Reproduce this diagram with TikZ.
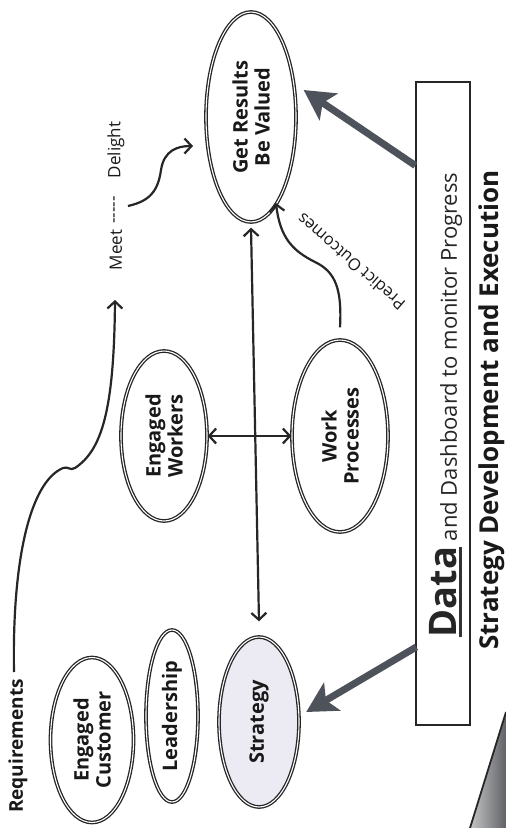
\documentclass[tikz,border=0pt]{standalone}
\usepackage{fontspec}
\setmainfont{Open Sans}
\usetikzlibrary{shapes.geometric,arrows.meta}
\definecolor{inkc}{RGB}{38,38,40}
\definecolor{bigc}{RGB}{78,82,90}
\definecolor{stratfill}{RGB}{236,234,242}
\definecolor{wedgec}{RGB}{95,98,102}
\begin{document}
\begin{tikzpicture}[x=1pt,y=-1pt,
  oval/.style={ellipse, draw=inkc, line width=1.3pt, double=white, double distance=1.1pt,
    inner sep=0pt, rotate=90, align=center, text=black!90,
    font=\bfseries\fontsize{20}{22}\selectfont},
  thinarrow/.style={draw=inkc, line width=2.2pt,
    -{Straight Barb[length=7pt,width=15pt]}},
  dblarrow/.style={draw=inkc, line width=2.2pt,
    {Straight Barb[length=7pt,width=15pt]}-{Straight Barb[length=7pt,width=15pt]}},
  bigarrow/.style={draw=bigc, line width=7pt,
    -{Stealth[length=30pt,width=32pt,inset=7pt]}},
  lbl/.style={rotate=90, inner sep=0pt, text=black!90}
]
\useasboundingbox (0,0) rectangle (506,828);
\fill[white] (0,0) rectangle (506,828);

% ellipses
\node[oval, minimum width=210pt, minimum height=90pt] (res) at (251,117) {Get Results\\Be Valued};
\node[oval, minimum width=165pt, minimum height=83pt] (cust) at (92,740) {Engaged\\Customer};
\node[oval, minimum width=172pt, minimum height=52pt] (lead) at (172,716) {Leadership};
\node[oval, fill=stratfill, minimum width=170pt, minimum height=80pt] (strat) at (259,722) {Strategy};
\node[oval, minimum width=170pt, minimum height=86pt] (work) at (164,436) {Engaged\\Workers};
\node[oval, minimum width=192pt, minimum height=96pt] (proc) at (340,436) {Work\\Processes};

% texts
\node[lbl, font=\bfseries\fontsize{19}{22}\selectfont] (req) at (18,746) {Requirements};
\node[lbl, font=\fontsize{17}{20}\selectfont] (meet) at (116,250) {Meet};
\node[lbl, font=\fontsize{17}{20}\selectfont] (dash) at (116,210) {-{}-{}-{}-{}-};
\node[lbl, font=\fontsize{17}{20}\selectfont] (del) at (116,150) {Delight};
\node[rotate=139, inner sep=0pt, text=black!90, font=\fontsize{16.5}{18}\selectfont] (pred) at (351,262) {Predict Outcomes};

% box
\node[draw=inkc, line width=1.4pt, minimum width=54pt, minimum height=643pt, inner sep=0pt] (box) at (443,403.5) {};
\node[lbl, text=black!85] (boxtext) at (446,405)
  {{\fontsize{38}{38}\selectfont\bfseries\setbox0\hbox{Data}\rlap{\color{black!80}\rule[-5pt]{\wd0}{3pt}}\box0}%
   {\fontsize{22}{24}\selectfont\ and Dashboard to monitor Progress}};
\node[lbl, font=\bfseries\fontsize{26}{28}\selectfont] (sde) at (492,410) {Strategy Development and Execution};

% page curl wedge
\shade[left color=gray!45, right color=wedgec] (470,828) -- (506,712) -- (506,828) -- cycle;
\draw[black!85, line width=1.8pt] (470,828) -- (506,712);

% connectors
\coordinate (reqstart) at (14,672);
\coordinate (meettip) at (115,300);
\draw[thinarrow] (reqstart) .. controls (12,560) and (30,482) .. (63,468)
  .. controls (68,466) and (70,471) .. (75,468)
  .. controls (102,450) and (114,410) .. (meettip);

\coordinate (delstart) at (128,206);
\coordinate (deltip) at (193,146);
\draw[thinarrow] (delstart) .. controls (150,201) and (158,191) .. (161,170)
  .. controls (164,150) and (178,146) .. (deltip);

\draw[dblarrow] ([yshift=-5pt]res.west) -- ([yshift=15pt]strat.east);
\draw[dblarrow] (work.south) -- (proc.north);

\coordinate (predstart) at ([yshift=12pt]proc.east);
\coordinate (predtip) at (276,203);
\draw[thinarrow] (predstart) .. controls (342,290) and (336,272) .. (315,262)
  .. controls (293,251) and (280,238) .. (predtip);

\draw[bigarrow] ([yshift=238pt]box.west) -- ([xshift=7pt,yshift=27pt]res.south);
\draw[bigarrow] ([xshift=1pt,yshift=-243.5pt]box.west) -- ([xshift=6.5pt,yshift=10pt]strat.south);
\end{tikzpicture}
\end{document}
